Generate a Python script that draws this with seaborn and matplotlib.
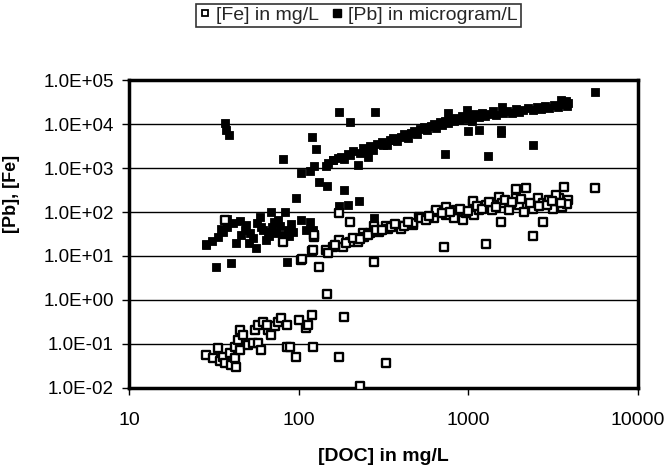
import numpy as np
import pandas as pd
import matplotlib
matplotlib.use("Agg")
import matplotlib.pyplot as plt
import seaborn as sns
from matplotlib.ticker import FixedLocator, FuncFormatter, NullLocator
from matplotlib.lines import Line2D

# ---------------- data ----------------
fe_doc = [28.6, 31.3, 33.5, 34.3, 35.9, 36.7, 39.3, 40.2, 42, 42.9, 42, 45, 44, 45, 47, 50, 54,
          57.5, 60, 55, 57.5, 61.6, 66, 65, 69, 72.6, 75.6, 79, 85, 85, 88.5, 97, 101, 111, 113,
          120, 122, 148, 184, 174, 229, 328, 280, 132, 120, 104, 124, 124, 81, 37, 174, 200, 716,
          1280, 2400, 1550, 2760, 5560, 1900, 2200, 3670,
          105, 121, 145, 159, 174, 182, 200, 224, 240, 244, 262, 277, 299, 328, 335, 398, 400,
          470, 470, 515, 525, 630, 645, 645, 740, 740, 830, 850, 930, 970, 1060, 1060, 1085,
          1160, 1270, 1390, 1520, 1590, 1740, 1900, 1990, 2140, 2400, 2570, 2750, 3000, 3180,
          3430, 3590, 3850, 3300, 3800,
          150, 165, 190, 210, 230, 255, 285, 310, 350, 370, 420, 440, 560, 590, 700, 780, 900,
          1000, 1120, 1200, 1330, 1450, 1650, 1800, 2050, 2300, 2600, 2900, 3100, 3500]
fe_val = [0.056, 0.047, 0.079, 0.040, 0.051, 0.036, 0.062, 0.033, 0.047, 0.030, 0.087, 0.073,
          0.123, 0.21, 0.16, 0.095, 0.105, 0.105, 0.073, 0.21, 0.27, 0.32, 0.21, 0.27, 0.16, 0.25,
          0.32, 0.38, 0.27, 0.087, 0.087, 0.051, 0.35, 0.23, 0.27, 0.46, 0.087, 1.4, 0.41, 0.051,
          0.011, 0.037, 7.4, 5.5, 13, 8.1, 27.6, 30, 21, 66, 93, 60, 16,
          18.6, 28, 58, 58, 355, 330, 345, 365,
          8.4, 13.7, 13.7, 16, 23, 16, 21, 21, 33, 27.6, 33, 47, 35, 47, 42, 47, 42,
          50, 55, 76, 72, 72, 100, 112, 85, 132, 72, 112, 66, 93, 158, 174, 85,
          111, 144, 111, 224, 158, 111, 205, 144, 100, 120, 205, 158, 187, 120,
          205, 132, 187, 240, 150,
          12, 18, 20, 25, 24, 30, 38, 40, 45, 52, 48, 60, 65, 80, 95, 100, 120,
          105, 140, 120, 170, 130, 190, 165, 200, 160, 135, 145, 175, 160]

pb_doc = [28.4, 33.5, 36, 41, 43, 49, 52, 56, 59, 64.5, 69, 74, 83, 86.5, 104, 116, 121, 111,
          28.6, 32.8, 39.7, 85, 38, 46, 54, 62, 67, 78, 90, 38, 45, 60, 72, 80, 93, 70, 31, 48,
          57, 66, 76, 88, 35, 51,
          37, 37.5, 38.7, 120, 126, 81, 104, 116, 124, 146, 132, 147, 96, 173, 200, 284, 184,
          174, 195, 226, 280, 159, 178, 200, 224, 251, 257, 313, 359, 725, 5580, 2400, 1300,
          150, 160, 170, 185, 195, 210, 230, 240, 265, 275, 290, 310, 330, 345, 360, 380, 400,
          420, 440, 460, 480, 500, 520, 545, 570, 600, 630, 650, 680, 700, 730, 760, 790, 820,
          850, 880, 920, 960, 1000, 1050, 1100, 1150, 1200, 1250, 1320, 1400, 1450, 1550, 1560,
          1000, 1150, 1600, 1700, 1800, 1900, 2000, 2100, 2250, 2400, 2550, 2700, 2850, 3000,
          3200, 3400, 3600, 3800, 3900, 3750, 760, 990, 1580, 3500]
pb_val = [18.5, 27, 35, 55, 19.5, 50, 33, 15, 78, 23, 100, 33, 100, 39, 66, 60, 39, 39,
          18, 5.5, 6.8, 7.2, 45, 30, 25, 40, 28, 48, 52, 70, 62, 45, 60, 30, 35, 45, 22, 40,
          55, 35, 65, 28, 42, 20,
          10400, 7500, 5600, 5200, 2700, 1600, 760, 870, 1100, 1100, 490, 390, 210, 18600, 11000,
          18600, 316, 138, 144, 178, 72, 1520, 1820, 2000, 1170, 2570, 1820, 3300, 4350, 2100,
          52500, 3300, 1860,
          1300, 1500, 1700, 1600, 2100, 2400, 2200, 2900, 3100, 2600, 3600, 3900, 3400, 4300,
          4800, 4100, 5200, 5800, 4900, 6400, 7000, 6000, 7600, 8400, 7200, 9000, 10000, 8200,
          11000, 9500, 12000, 10500, 13000, 11500, 14000, 12500, 15000, 13000, 16000, 12000,
          17000, 14500, 18000, 15500, 17000, 19500, 16000, 6200, 7500,
          7000, 7500, 18000, 20000, 17500, 22000, 19000, 21000, 23000, 20500, 24000, 22000,
          25500, 23000, 26500, 24500, 28000, 26000, 30000, 34000, 17500, 21000, 24500, 35000]

x_ticks = [10, 100, 1000, 10000]
y_ticks = [1e-2, 1e-1, 1e0, 1e1, 1e2, 1e3, 1e4, 1e5]
fe_label = "[Fe] in mg/L"
pb_label = "[Pb] in microgram/L"
x_label = "[DOC] in mg/L"
y_label = "[Pb], [Fe]"

# ---------------- figure ----------------
sns.set_theme(style="white")
plt.rcParams['font.family'] = ['Liberation Sans', 'DejaVu Sans']

fe_df = pd.DataFrame({"DOC": fe_doc, "val": fe_val})
pb_df = pd.DataFrame({"DOC": pb_doc, "val": pb_val})

fig = plt.figure(figsize=(6.7, 4.68), dpi=100)
ax = fig.add_axes([0.1925, 0.171, 0.952 - 0.1925, 0.829 - 0.171])
ax.set_xscale("log")
ax.set_yscale("log")

sns.scatterplot(data=pb_df, x="DOC", y="val", ax=ax, marker="s", s=38,
                color="black", edgecolor="black", linewidth=0.6, zorder=3, legend=False)
sns.scatterplot(data=fe_df, x="DOC", y="val", ax=ax, marker="s", s=26,
                facecolor="white", edgecolor="black", linewidth=1.7, zorder=4, legend=False)

ax.set_xlim(10, 10000)
ax.set_ylim(1e-2, 1e5)
ax.xaxis.set_major_locator(FixedLocator(x_ticks))
ax.yaxis.set_major_locator(FixedLocator(y_ticks))
ax.xaxis.set_minor_locator(NullLocator())
ax.yaxis.set_minor_locator(NullLocator())
ax.xaxis.set_major_formatter(FuncFormatter(lambda v, p: f"{v:g}"))
ax.yaxis.set_major_formatter(FuncFormatter(lambda v, p: f"{v:.1E}"))

ax.grid(False)
ax.yaxis.grid(True, color="black", linewidth=1.0)
ax.set_axisbelow(True)
for sp in ax.spines.values():
    sp.set_color("black")
    sp.set_linewidth(2.5)
    sp.set_visible(True)

ax.tick_params(axis="both", which="major", direction="out", length=5, width=1,
               color="black", labelcolor="black", bottom=True, left=True)
ax.tick_params(axis="x", labelsize=14, pad=12)
ax.tick_params(axis="y", labelsize=13.5, pad=6)

ax.set_xlabel(x_label, fontsize=14, fontweight="bold", color="black", labelpad=14)
ax.set_ylabel(y_label, fontsize=13, fontweight="bold", color="black")
ax.yaxis.set_label_coords(-0.215, 0.63)

handles = [
    Line2D([], [], marker="s", linestyle="none", markersize=5, markerfacecolor="white",
           markeredgecolor="black", markeredgewidth=1.3, label=fe_label),
    Line2D([], [], marker="s", linestyle="none", markersize=5.5, markerfacecolor="black",
           markeredgecolor="black", label=pb_label),
]
leg = fig.legend(handles=handles, loc="center", bbox_to_anchor=(0.535, 0.967), ncol=2,
                 frameon=True, fancybox=False, fontsize=14, handlelength=0.6,
                 handletextpad=0.3, columnspacing=0.6, borderpad=0.15, borderaxespad=0)
leg.get_frame().set_edgecolor("black")
leg.get_frame().set_linewidth(1.2)

fig.savefig("out.png", dpi=100, facecolor="white")
